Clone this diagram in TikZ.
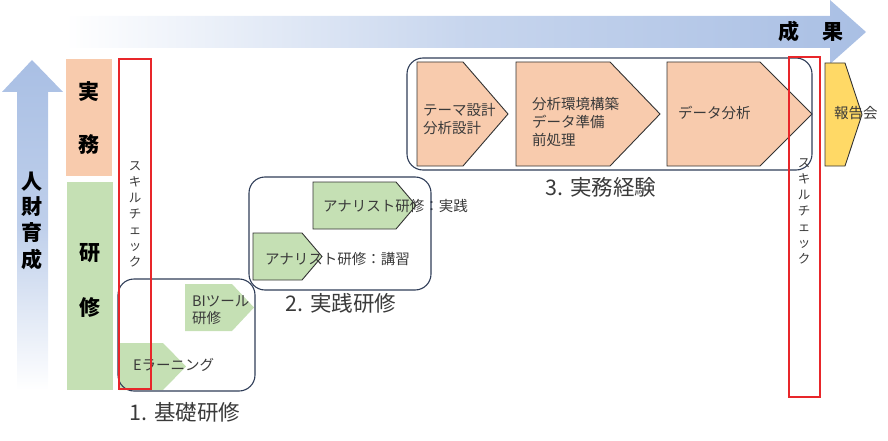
\documentclass[tikz,border=0pt]{standalone}
\usepackage{fontspec}
\setmainfont{Noto Sans CJK JP}
\definecolor{arrowblue}{HTML}{A9BFE4}
\definecolor{greenfill}{HTML}{C5E0B4}
\definecolor{orangefill}{HTML}{F8CBAD}
\definecolor{yellowfill}{HTML}{FFD966}
\definecolor{navy}{HTML}{2F3D58}
\definecolor{redline}{HTML}{E8262A}
\definecolor{txt}{HTML}{3A3A3A}
\tikzset{
  groupbox/.style={draw=navy, line width=1.1pt, rounded corners=16pt},
  greenpent/.style={fill=greenfill},
  greenpentb/.style={fill=greenfill, draw=black!80, line width=0.9pt},
  orangepent/.style={fill=orangefill, draw=black!80, line width=0.9pt},
  yellowpent/.style={fill=yellowfill, draw=black!80, line width=0.9pt},
  checkbox/.style={draw=redline, line width=1.2pt},
  smalltxt/.style={text=txt, font=\fontsize{14.5}{17.5}\selectfont, inner sep=0pt, align=left, anchor=west},
  labeltxt/.style={text=txt, font=\fontsize{21.5}{24}\selectfont, inner sep=0pt},
  bigbold/.style={text=black, font=\fontsize{21}{26}\selectfont\bfseries, inner sep=0pt},
  vertxt/.style={text=txt, font=\fontsize{12.5}{16}\selectfont, inner sep=0pt, align=center}
}
\begin{document}
\begin{tikzpicture}[x=1pt,y=-1pt]
\useasboundingbox (0,0) rectangle (888,441);
% top gradient arrow
\shade[left color=white, right color=arrowblue, middle color=arrowblue!65]
  (65,16) -- (830,16) -- (830,0) -- (866,32) -- (830,64) -- (830,48) -- (65,48) -- cycle;
\node[bigbold] (seika1) at (789,32) {成};
\node[bigbold] (seika2) at (833,32) {果};
% vertical gradient arrow
\shade[top color=arrowblue, bottom color=white, middle color=arrowblue!75]
  (17,390) -- (17,92) -- (2,92) -- (32,60) -- (63,92) -- (48,92) -- (48,390) -- cycle;
\node[bigbold] (jin) at (32,182) {人};
\node[bigbold] (zai) at (32,207) {財};
\node[bigbold] (iku) at (32,233) {育};
\node[bigbold] (sei) at (32,259) {成};
% side boxes
\fill[orangefill] (66,59) rectangle (112,176);
\node[bigbold] (ji) at (89,92) {実};
\node[bigbold] (mu) at (89,145) {務};
\fill[greenfill] (67,182) rectangle (113,390);
\node[bigbold] (ken) at (90,253) {研};
\node[bigbold] (shu) at (90,307) {修};
% group 1
\fill[greenpent] (185,284) -- (232,284) -- (254,307.5) -- (232,331) -- (185,331) -- cycle;
\node[smalltxt] (bi) at (192,310) {BIツール\\研修};
\fill[greenpent] (119,343) -- (163,343) -- (186,366.5) -- (163,390) -- (119,390) -- cycle;
\node[smalltxt] (el) at (133,365) {Eラーニング};
\draw[groupbox] (118,279) rectangle (255,391);
\node[labeltxt] (g1) at (185,412) {1. 基礎研修};
% group 2
\draw[greenpentb] (313,182) -- (396,182) -- (416,205.5) -- (396,229) -- (313,229) -- cycle;
\node[smalltxt] (an1) at (323,206) {アナリスト研修：実践};
\draw[greenpentb] (253,233) -- (302,233) -- (322,256.5) -- (302,280) -- (253,280) -- cycle;
\node[smalltxt] (an2) at (265,259) {アナリスト研修：講習};
\draw[groupbox] (249,177) rectangle (431,290);
\node[labeltxt] (g2) at (341,303) {2. 実践研修};
% group 3
\draw[orangepent] (417,62) -- (463,62) -- (508,114) -- (463,166) -- (417,166) -- cycle;
\node[smalltxt] (p1) at (423,119) {テーマ設計\\分析設計};
\draw[orangepent] (516,62) -- (610,62) -- (660,114) -- (610,166) -- (516,166) -- cycle;
\node[smalltxt, font=\fontsize{14.5}{18}\selectfont] (p2) at (532,122) {分析環境構築\\データ準備\\前処理};
\draw[orangepent] (667,62) -- (760,62) -- (812,114) -- (760,166) -- (667,166) -- cycle;
\node[smalltxt] (p3) at (678,113) {データ分析};
\draw[groupbox] (407,58) rectangle (812,170);
\node[labeltxt] (g3) at (601,187) {3. 実務経験};
\draw[yellowpent] (825,63) -- (845,63) -- (862,114.5) -- (845,166) -- (825,166) -- cycle;
\node[smalltxt] (rep) at (834,113) {報告会};
% skill check boxes
\draw[checkbox] (119,59) rectangle (151,389);
\node[vertxt] (sc1) at (135,214) {ス\\キ\\ル\\チ\\ェ\\ッ\\ク};
\draw[checkbox] (789,57) rectangle (820,397);
\node[vertxt] (sc2) at (804,211) {ス\\キ\\ル\\チ\\ェ\\ッ\\ク};
\end{tikzpicture}
\end{document}
